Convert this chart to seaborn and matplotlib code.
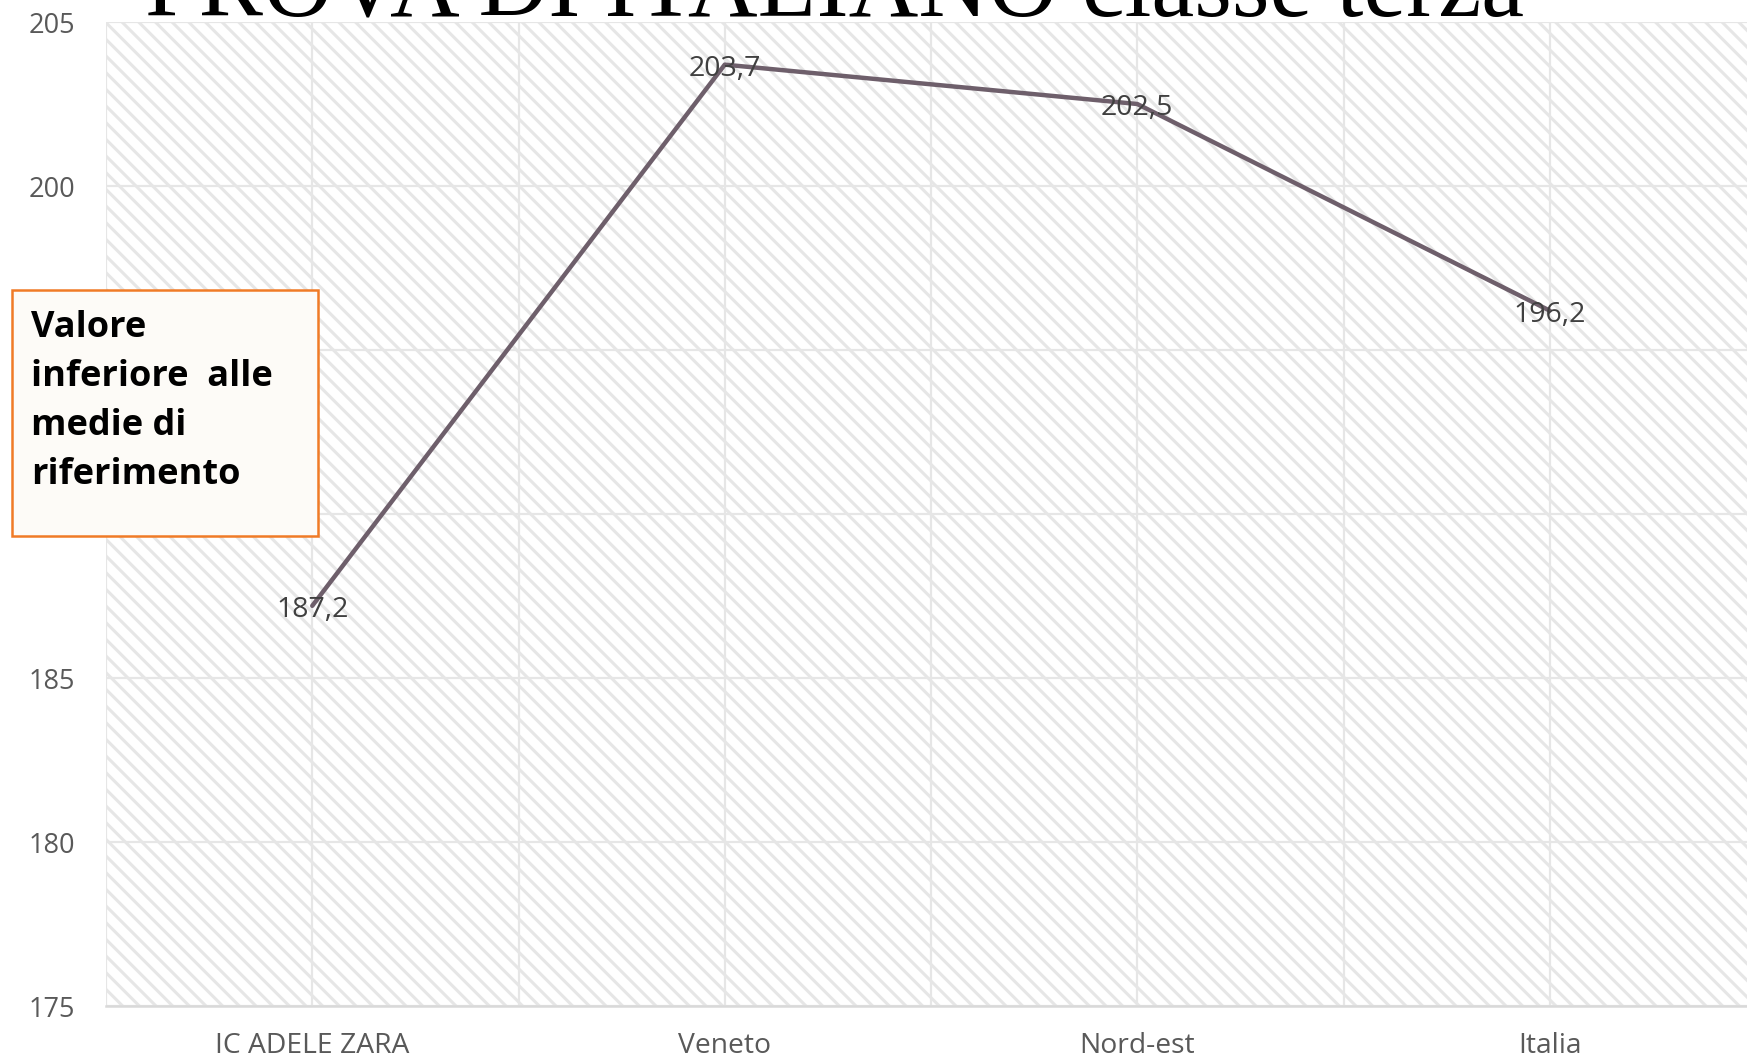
import matplotlib
matplotlib.use("Agg")
import matplotlib.pyplot as plt
from matplotlib.patches import Rectangle
from matplotlib.ticker import MultipleLocator
import seaborn as sns
import pandas as pd

# Dati della prova
categorie = ["IC ADELE ZARA", "Veneto", "Nord-est", "Italia"]
punteggi = [187.2, 203.7, 202.5, 196.2]
etichette = ["187,2", "203,7", "202,5", "196,2"]
titolo = "PROVA DI ITALIANO classe terza"
nota = "Valore\ninferiore  alle\nmedie di\nriferimento"

sns.set_theme(style="white")
plt.rcParams["font.family"] = ["Open Sans", "DejaVu Sans"]
plt.rcParams["hatch.linewidth"] = 2.2

W, H = 1747, 1063
fig = plt.figure(figsize=(W / 100, H / 100), dpi=100)
fig.patch.set_facecolor("white")

left, right, top, bottom = 106, 1756, 22, 1006
ax = fig.add_axes([left / W, 1 - bottom / H, (right - left) / W, (bottom - top) / H])
ax.set_facecolor("white")

# sfondo tratteggiato
ax.add_patch(Rectangle((0, 0), 1, 1, transform=ax.transAxes, facecolor="white",
                       edgecolor="#e6e6e6", hatch="\\\\", linewidth=0, zorder=0))

df = pd.DataFrame({"categoria": categorie, "punteggio": punteggi})
sns.lineplot(data=df, x="categoria", y="punteggio", sort=False, ax=ax,
             color="#6e5f6b", linewidth=3.2, zorder=3)

ax.set_xlim(-0.5, len(categorie) - 0.5)
ax.set_ylim(175, 205)
ax.yaxis.set_major_locator(MultipleLocator(5))
ax.set_xticks(range(len(categorie)))
ax.set_xticklabels(categorie)
ax.xaxis.set_minor_locator(MultipleLocator(0.5))
ax.grid(True, axis="y", color="#e6e6e6", linewidth=1.6, zorder=1)
ax.grid(True, axis="x", which="both", color="#e6e6e6", linewidth=1.6, zorder=1)
ax.set_axisbelow(True)
ax.set_xlabel("")
ax.set_ylabel("")

for s in ["left", "right", "top"]:
    ax.spines[s].set_visible(False)
ax.spines["bottom"].set_color("#d9d9d9")
ax.spines["bottom"].set_linewidth(1.8)

ax.tick_params(axis="y", length=0, pad=22, labelsize=19.5, labelcolor="#595959")
ax.tick_params(axis="x", which="both", length=0, pad=19, labelsize=20.3, labelcolor="#595959")

for i, (v, t) in enumerate(zip(punteggi, etichette)):
    ax.annotate(t, xy=(i, v), xytext=(0, -3), textcoords="offset points",
                ha="center", va="center", fontsize=20.5, color="#404040", zorder=4)

# titolo
fig.text(145 / W, 1 - 17 / H, titolo, fontsize=69.5, family=["Liberation Serif", "DejaVu Serif"],
         color="black", ha="left", va="baseline")

# riquadro di nota
bx0, by0, bx1, by1 = 12, 290, 318, 536
fig.patches.append(Rectangle((bx0 / W, 1 - by1 / H), (bx1 - bx0) / W, (by1 - by0) / H,
                             transform=fig.transFigure, facecolor="#fdfbf7",
                             edgecolor="#f07b26", linewidth=1.8, zorder=5))
fig.text(31 / W, 1 - 310 / H, nota, fontsize=26, fontweight="bold", color="black",
         ha="left", va="top", linespacing=1.48, zorder=6)

fig.savefig("out.png", dpi=100)
